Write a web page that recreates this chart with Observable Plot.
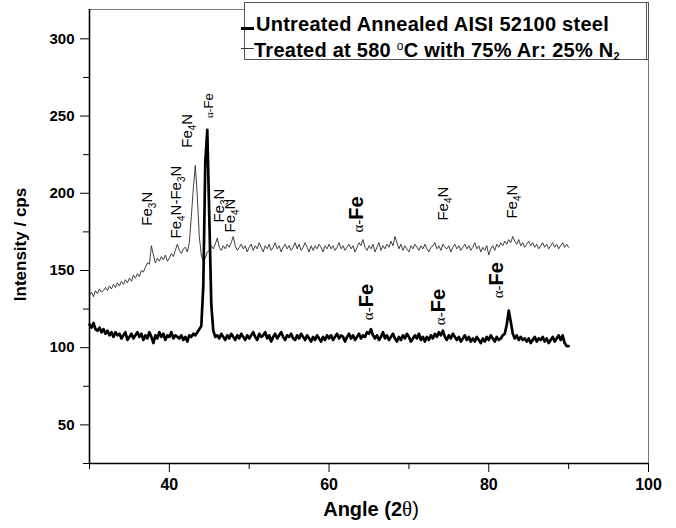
<!DOCTYPE html>
<html><head><meta charset="utf-8">
<script src="https://cdn.jsdelivr.net/npm/d3@7"></script>
<script src="https://cdn.jsdelivr.net/npm/@observablehq/plot@0.6"></script>
<style>
body{margin:0;background:#fff;}
#wrap{position:relative;width:676px;height:528px;font-family:Arial,"Liberation Sans",sans-serif;}
#legend{position:absolute;left:244px;top:2px;width:405px;height:58px;border:1px solid #555;border-right:3px double #555;background:#fff;box-sizing:border-box;}
.lg-row{position:absolute;left:11px;font-weight:bold;font-size:20px;letter-spacing:0.25px;line-height:24px;white-space:nowrap;color:#000;}
.lg-line{position:absolute;left:-4px;width:13px;background:#000;}
sub{font-size:11px;vertical-align:-3px;}
.deg{font-size:12px;vertical-align:7px;font-weight:normal;}
</style>
</head><body>
<div id="wrap"></div>
<script>
// ---- data ----
const angleStart = 30, angleStep = 0.25;
const untreated = [
115,113,116,112, 111,113,110,112, 109,111,108,110, 107,110,108,109, 106,108,110,105,
107,109,106,108, 110,107,109,105, 108,106,110,107, 103,108,106,110, 107,109,105,108,
107,110,106,108, 107,106,108,105, 107,104,108,107, 109,108,110,112, 114,140,220,241,
185,128,111,107, 108,106,109,107, 105,108,106,109, 107,105,108,106, 109,107,105,108,
106,108,110,107, 105,109,107,108, 110,106,108,104, 107,109,106,108, 110,107,105,108,
107,109,106,105, 108,106,109,107, 105,108,106,104, 107,105,108,106, 104,107,105,108,
106,108,105,107, 109,106,108,107, 104,107,109,106, 108,105,107,109, 106,108,107,110,
109,112,108,106, 108,105,107,110, 106,108,105,107, 109,106,104,107, 105,108,106,109,
107,104,106,108, 106,109,105,107, 104,107,105,108, 106,109,107,110, 108,111,107,105,
108,106,109,107, 105,107,104,106, 108,105,107,104, 106,104,107,105, 103,106,104,107,
105,108,106,104, 107,105,106,108, 109,115,124,117, 109,106,108,105, 107,105,106,104,
106,103,105,107, 104,106,105,107, 104,106,103,105, 107,104,106,108, 105,108,103,101,
101];
const treated = [
134,136,133,137, 135,138,136,137, 139,137,140,138, 141,139,142,140, 143,141,144,142,
145,143,147,145, 148,146,150,149, 152,155,154,166, 160,155,158,156, 159,157,160,156,
158,161,159,163, 167,163,161,164, 165,162,168,185, 203,218,198,172, 160,156,158,162,
163,166,164,167, 171,165,163,166, 164,167,165,168, 172,166,163,165, 167,164,166,162,
165,167,163,166, 164,168,165,162, 166,164,167,163, 165,168,164,166, 162,165,167,164,
166,163,165,168, 164,167,163,165, 168,165,162,166, 163,166,164,167, 165,162,166,164,
167,164,166,163, 165,168,164,166, 163,165,167,164, 166,162,165,168, 166,170,165,163,
166,164,167,162, 165,168,163,166, 164,167,165,169, 166,172,168,164, 167,163,166,164,
162,166,164,167, 165,163,166,164, 167,164,162,165, 166,168,164,166, 163,167,165,164,
166,162,165,167, 164,166,163,165, 167,164,166,163, 165,168,164,166, 162,165,163,166,
160,164,166,163, 167,165,168,166, 169,167,170,168, 172,169,167,170, 166,168,165,167,
169,166,168,165, 167,164,166,168, 165,167,164,166, 168,165,167,164, 166,168,165,167,
165];
const annLabels    = ["Fe3N","Fe4N-Fe3N","Fe4N","α-Fe","Fe3N","Fe4N","α-Fe","Fe4N","Fe4N","α-Fe","α-Fe","α-Fe"];
const annAngles    = [37.22, 40.9, 42.27, 44.9, 46.27, 47.65, 63.67, 74.3, 82.94, 64.92, 73.93, 81.19];
const annIntensity = [179, 170.7, 229.5, 248.8, 181, 174.6, 174.6, 182.3, 183.6, 117.8, 114.6, 132];
const yMajorTicks = [50, 100, 150, 200, 250, 300];
const yMinorTicks = [25, 75, 125, 175, 225, 275];
const xMajorTicks = [40, 60, 80, 100];
const xMinorTicks = [30, 50, 70, 90];
const seriesNames = ["Untreated Annealed AISI 52100 steel", "Treated at 580 °C with 75% Ar: 25% N2"];

// ---- tables ----
const rows = (vals) => vals.map((v, i) => ({angle: angleStart + i * angleStep, intensity: v}));
const dUntreated = rows(untreated);
const dTreated = rows(treated);
const ann = annLabels.map((t, i) => ({label: t, angle: annAngles[i], intensity: annIntensity[i]}));

const font = "Arial, 'Liberation Sans', sans-serif";
const plot = Plot.plot({
  width: 676, height: 528,
  marginLeft: 89, marginRight: 28, marginTop: 9, marginBottom: 65,
  x: {domain: [30, 100]},
  y: {domain: [25, 319]},
  style: {fontFamily: font, color: "#000", background: "#fff", overflow: "visible"},
  marks: [
    Plot.frame({stroke: "#777", strokeWidth: 1}),
    Plot.axisY(yMinorTicks, {tickSize: 6, tickFormat: () => "", label: null}),
    Plot.axisY(yMajorTicks, {tickSize: 9, tickPadding: 6, fontSize: 15, fontWeight: "bold", label: null}),
    Plot.axisX(xMinorTicks, {tickSize: 6, tickFormat: () => "", label: null}),
    Plot.axisX(xMajorTicks, {tickSize: 9, tickPadding: 6, fontSize: 16, fontWeight: "bold", label: null}),
    Plot.ruleX([30], {stroke: "#000", strokeWidth: 1.6}),
    Plot.ruleY([25], {stroke: "#000", strokeWidth: 1.6}),
    Plot.line(dTreated, {x: "angle", y: "intensity", stroke: "#2a2a2a", strokeWidth: 0.9}),
    Plot.line(dUntreated, {x: "angle", y: "intensity", stroke: "#000", strokeWidth: 2.7, strokeLinejoin: "round"}),
    Plot.text(ann, {x: "angle", y: "intensity", text: "label", rotate: -90, textAnchor: "start",
      lineAnchor: "middle", fontSize: 15, fill: "#000"}),
    Plot.text(["Intensity / cps"], {frameAnchor: "left", textAnchor: "middle", dx: -69, dy: 8, rotate: -90, fontSize: 17, fontWeight: "bold"}),
    Plot.text(["Angle (2θ)"], {frameAnchor: "bottom", textAnchor: "middle", dx: 2, dy: 52, fontSize: 20, fontWeight: "bold"})
  ]
});

const NS = "http://www.w3.org/2000/svg";
function ts(el, txt, attrs) {
  const t = document.createElementNS(NS, "tspan");
  t.textContent = txt;
  for (const k in attrs) t.setAttribute(k, attrs[k]);
  el.appendChild(t);
}
const textGroups = plot.querySelectorAll('g[aria-label="text"]');
// group 0: peak annotations
textGroups[0].querySelectorAll("text").forEach((el, i) => {
  const s = el.textContent;
  while (el.firstChild) el.removeChild(el.firstChild);
  if (s === "α-Fe") {
    const isSmall = annAngles[i] < 50;
    ts(el, "α-", {"font-family": "'Liberation Serif', 'DejaVu Serif', serif", "font-size": isSmall ? 11 : 15});
    ts(el, "Fe", {"font-size": isSmall ? 13 : 20, "font-weight": isSmall ? "normal" : "bold"});
  } else {
    let sub = false;
    for (const ch of s) {
      if (/[0-9]/.test(ch)) { ts(el, ch, {"font-size": 10, "dy": 4}); sub = true; }
      else { ts(el, ch, sub ? {"dy": -4} : {}); sub = false; }
    }
  }
});
// group 2: x axis title
textGroups[2].querySelectorAll("text").forEach(el => {
  while (el.firstChild) el.removeChild(el.firstChild);
  ts(el, "Angle (2", {});
  ts(el, "θ", {"font-family": "'Liberation Serif', serif", "font-weight": "normal", "font-size": 21});
  ts(el, ")", {"font-weight": "normal"});
});

const wrap = document.getElementById("wrap");
wrap.appendChild(plot);
const lg = document.createElement("div");
lg.id = "legend";
lg.innerHTML =
  `<div class="lg-line" style="top:24px;height:3px"></div>
   <div class="lg-row" style="top:9px">${seriesNames[0]}</div>
   <div class="lg-line" style="top:45px;height:1px;background:#333"></div>
   <div class="lg-row" style="top:31px;left:9px">${seriesNames[1].replace("°C", '<span class="deg">o</span>C').replace(/N2$/, "N<sub>2</sub>")}</div>`;
wrap.appendChild(lg);
</script>
</body></html>
